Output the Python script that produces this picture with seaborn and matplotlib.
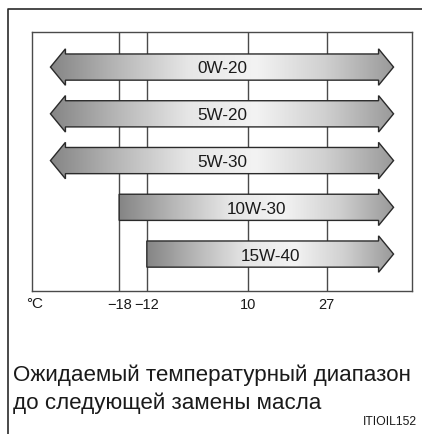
import numpy as np
import matplotlib.pyplot as plt
from matplotlib.patches import Polygon
from matplotlib.lines import Line2D
import seaborn as sns

# oil grades and lowest ambient temperature (None = no lower limit)
grades = ["0W-20", "5W-20", "5W-30", "10W-30", "15W-40"]
low_temp = [None, None, None, -18, -12]
tick_temps = [-18, -12, 10, 27]
tick_labels = ["\u221218", "\u221212", "10", "27"]
caption = ["Ожидаемый температурный диапазон", "до следующей замены масла"]
code = "ITIOIL152"

sns.set_style("white")
plt.rcParams['font.family'] = ['Liberation Sans', 'DejaVu Sans']

X_MIN, X_MAX = -36.9, 45.5
LEFT_TIP, RIGHT_TIP = -32.9, 41.5
HEAD_LEN, BODY, HEAD = 3.25, 0.28, 0.39

grad = sns.blend_palette(["#858585", "#b8b8b8", "#e6e6e6", "#f3f3f3", "#d0d0d0", "#9a9a9a"],
                         as_cmap=True)

fig = plt.figure(figsize=(4.22, 4.35), dpi=100)
ax = fig.add_axes([32 / 422, 1 - 292 / 435, 380 / 422, 259 / 435])

for t in tick_temps:
    ax.axvline(t, color="#4a4a4a", lw=1.0, zorder=1)

for i, (g, lo) in enumerate(zip(grades, low_temp)):
    y = i
    R = RIGHT_TIP
    if lo is None:
        L = LEFT_TIP
        pts = [(L, y), (L + HEAD_LEN, y - HEAD), (L + HEAD_LEN, y - BODY),
               (R - HEAD_LEN, y - BODY), (R - HEAD_LEN, y - HEAD), (R, y),
               (R - HEAD_LEN, y + HEAD), (R - HEAD_LEN, y + BODY),
               (L + HEAD_LEN, y + BODY), (L + HEAD_LEN, y + HEAD)]
    else:
        L = lo
        pts = [(L, y - BODY), (R - HEAD_LEN, y - BODY), (R - HEAD_LEN, y - HEAD),
               (R, y), (R - HEAD_LEN, y + HEAD), (R - HEAD_LEN, y + BODY),
               (L, y + BODY)]
    poly = Polygon(pts, closed=True, facecolor="none", edgecolor="#2a2a2a",
                   lw=1.0, zorder=3)
    ax.add_patch(poly)
    im = ax.imshow(np.linspace(0, 1, 256)[None, :], cmap=grad, aspect="auto",
                   extent=(L, R, y + HEAD, y - HEAD), zorder=2)
    im.set_clip_path(poly)
    ax.text((L + R) / 2, y + 0.02, g, ha="center", va="center", fontsize=12.3,
            color="#1a1a1a", zorder=4)

ax.set_xlim(X_MIN, X_MAX)
ax.set_ylim(4.79, -0.75)
ax.set_xticks(tick_temps, tick_labels)
ax.set_yticks([])
ax.tick_params(axis="x", length=0, pad=4, labelsize=10.5, colors="#1a1a1a")
for s in ax.spines.values():
    s.set_color("#4a4a4a")
    s.set_linewidth(1.0)

fig.text(26 / 422, 1 - 304 / 435, "\u00b0C", ha="left", va="center", fontsize=11,
         color="#1a1a1a")

# outer frame (left and top edges)
fx = 8 / 422
fy = 1 - 10 / 435
fig.add_artist(Line2D([fx, fx, 1], [0, fy, fy], color="#2a2a2a", lw=1.2,
                      transform=fig.transFigure))

fig.text(13 / 422, 1 - 375 / 435, caption[0], ha="left", va="center",
         fontsize=16.1, color="#1a1a1a")
fig.text(13 / 422, 1 - 403 / 435, caption[1], ha="left", va="center",
         fontsize=16.1, color="#1a1a1a")
fig.text(417 / 422, 1 - 422 / 435, code, ha="right", va="center", fontsize=8.8,
         color="#1a1a1a")

fig.savefig("out.png", dpi=100)
